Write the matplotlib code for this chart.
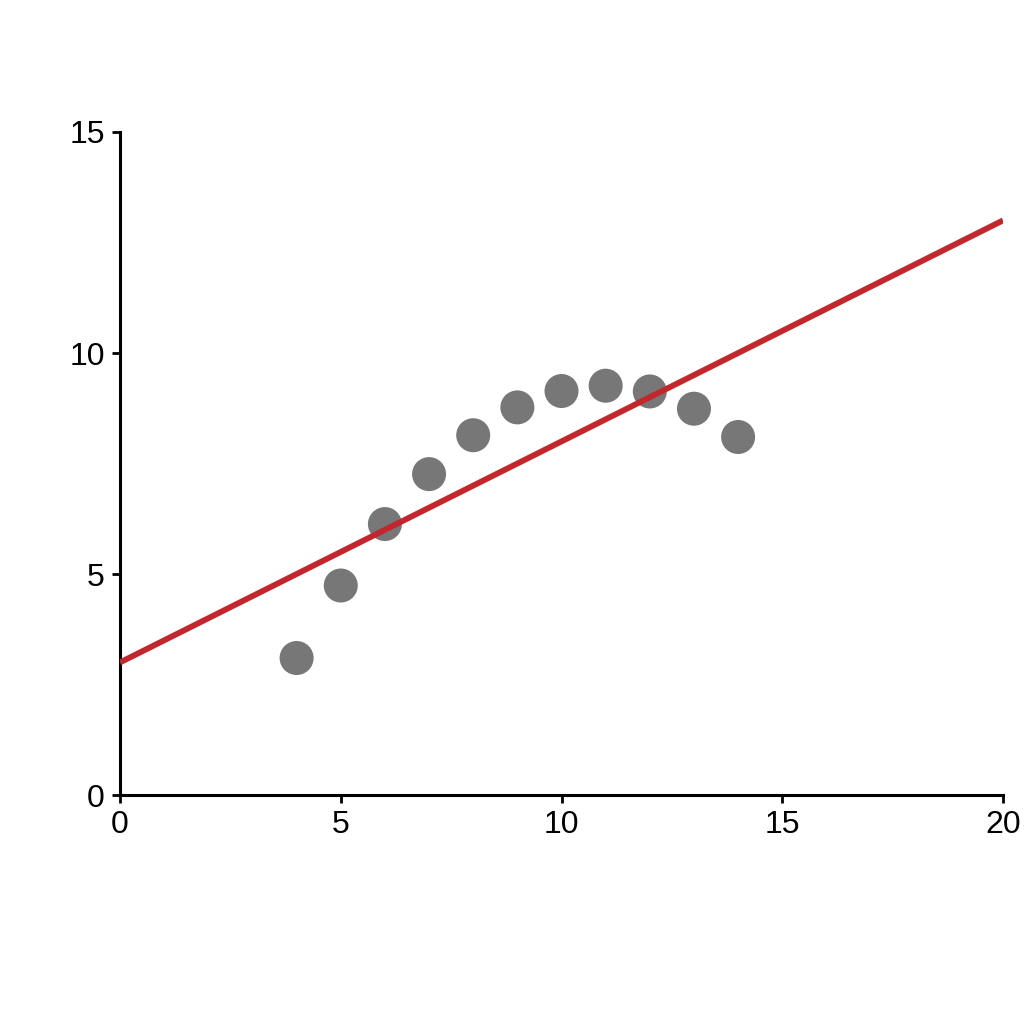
import matplotlib
matplotlib.use("Agg")
import matplotlib.pyplot as plt
import numpy as np

x = [4, 5, 6, 7, 8, 9, 10, 11, 12, 13, 14]
y = [3.10, 4.74, 6.13, 7.26, 8.14, 8.77, 9.14, 9.26, 9.13, 8.74, 8.10]
fit_x = [0, 20]
intercept = 3.0
slope = 0.5
xticks = [0, 5, 10, 15, 20]
yticks = [0, 5, 10, 15]

plt.rcParams['font.family'] = ['Liberation Sans', 'DejaVu Sans']
fig = plt.figure(figsize=(10.24, 10.24), dpi=100)
ax = fig.add_axes([0.1172, 0.2236, 0.8623, 0.6475])
fx = np.array(fit_x)
ax.plot(fx, intercept + slope * fx, color="#c1272d", lw=4.2, zorder=3, solid_capstyle="butt")
ax.scatter(x, y, s=600, color="#777777", edgecolors="none", zorder=2)
ax.set_xlim(0, 20)
ax.set_ylim(0, 15)
ax.set_xticks(xticks)
ax.set_yticks(yticks)
for s in ["top", "right"]:
    ax.spines[s].set_visible(False)
for s in ["left", "bottom"]:
    ax.spines[s].set_linewidth(2.2)
ax.tick_params(width=2, length=6, labelsize=23, direction="out", pad=5)
fig.savefig("out.png", dpi=100)
